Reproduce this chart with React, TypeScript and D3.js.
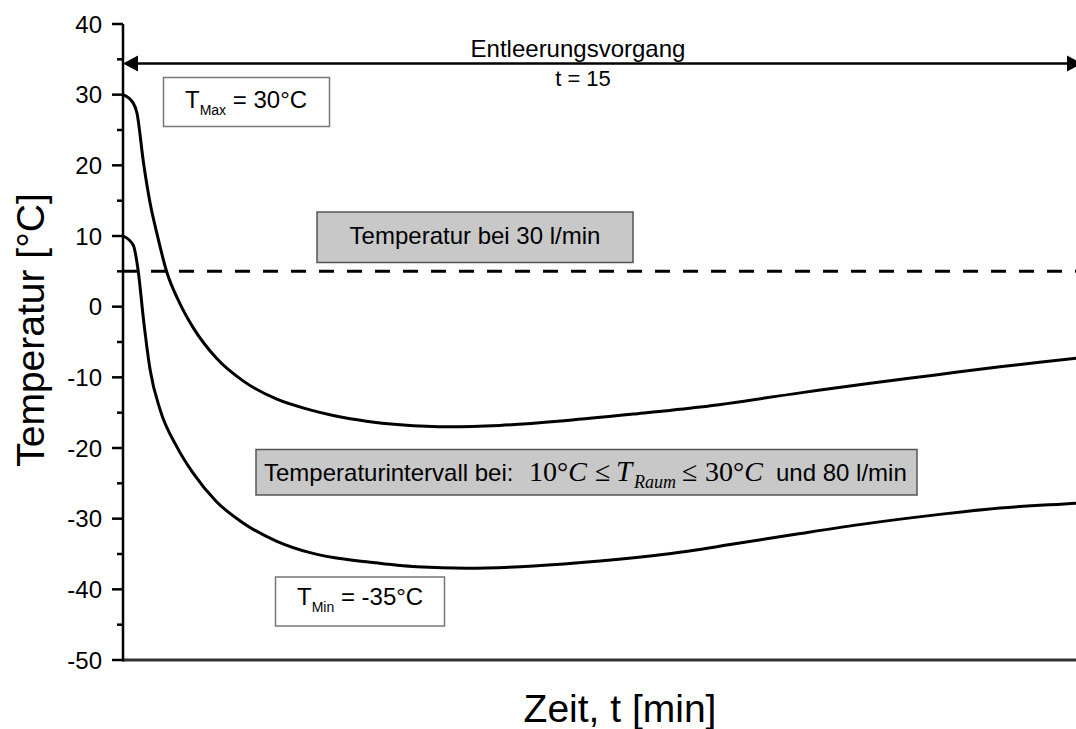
import React from "react";
import * as d3 from "d3";

const yTicks = [-50, -40, -30, -20, -10, 0, 10, 20, 30, 40];
const yMinorTicks = [-45, -35, -25, -15, -5, 5, 15, 25, 35];

const tMaxTime = [0, 0.155, 0.21, 0.31, 0.41, 0.51, 0.66, 0.86, 1.06, 1.41, 1.81, 2.32, 2.82, 3.17, 3.67, 4.18, 4.93, 5.68, 6.69, 7.69, 8.7, 10.21, 11.21, 12.22, 13.22, 14.37, 15];
const tMaxTemp = [30, 28.8, 27.4, 20.3, 14.6, 10.4, 4.9, 0.4, -3.0, -7.3, -10.5, -13.1, -14.6, -15.4, -16.2, -16.7, -17.0, -16.8, -16.1, -15.2, -14.2, -12.2, -10.9, -9.7, -8.5, -7.3, -6.6];

const tMinTime = [0, 0.155, 0.23, 0.31, 0.41, 0.56, 0.81, 1.06, 1.41, 1.81, 2.32, 2.82, 3.17, 3.67, 4.43, 5.18, 6.19, 7.19, 8.2, 9.2, 10.21, 11.21, 12.22, 13.22, 14.37, 15];
const tMinTemp = [10, 8.7, 5.0, -1.9, -9.0, -14.6, -19.8, -23.6, -27.6, -30.6, -33.2, -34.8, -35.5, -36.1, -36.8, -37.0, -36.7, -36.0, -35.0, -33.6, -32.1, -30.7, -29.5, -28.5, -27.8, -27.4];

const refTemp30 = 5;
const arrowLevel = 34.4;

const SANS = "'Liberation Sans', Arial, sans-serif";
const SERIF = "'Liberation Serif', 'Times New Roman', serif";

export default function App() {
  const W = 1076, H = 729;
  const x = d3.scaleLinear().domain([0, 15]).range([123, 1118]);
  const y = d3.scaleLinear().domain([-50, 40]).range([660, 24]);
  const line = d3
    .line<[number, number]>()
    .x((d) => x(d[0]))
    .y((d) => y(d[1]))
    .curve(d3.curveMonotoneX);
  const maxPts: [number, number][] = tMaxTime.map((t, i) => [t, tMaxTemp[i]]);
  const minPts: [number, number][] = tMinTime.map((t, i) => [t, tMinTemp[i]]);
  const x0 = x(0);
  const ay = y(arrowLevel);

  return (
    <svg width={W} height={H} style={{ position: "absolute", left: 0, top: 0, background: "#fff" }} fontFamily={SANS}>
      <rect x={0} y={0} width={W} height={H} fill="#fff" />
      {/* dashed reference */}
      <line x1={x0} x2={W + 10} y1={y(refTemp30)} y2={y(refTemp30)} stroke="#000" strokeWidth={3} strokeDasharray="15,13" />
      {/* curves */}
      <path d={line(maxPts) || ""} fill="none" stroke="#000" strokeWidth={3} />
      <path d={line(minPts) || ""} fill="none" stroke="#000" strokeWidth={3} />

      {/* axes */}
      <line x1={x0} x2={W + 10} y1={y(-50)} y2={y(-50)} stroke="#333" strokeWidth={3} />
      <line x1={x0} x2={x0} y1={y(40)} y2={y(-50) + 1.5} stroke="#000" strokeWidth={2.5} />
      {yTicks.map((v) => (
        <g key={v}>
          <line x1={x0 - 11} x2={x0} y1={y(v)} y2={y(v)} stroke="#000" strokeWidth={2.5} />
          <text x={102} y={y(v) + 8.5} textAnchor="end" fontSize={24} fill="#000">
            {v}
          </text>
        </g>
      ))}
      {yMinorTicks.map((v) => (
        <line key={v} x1={x0 - 6} x2={x0} y1={y(v)} y2={y(v)} stroke="#000" strokeWidth={2.5} />
      ))}

      {/* arrow */}
      <line x1={x0 + 10} x2={W + 10} y1={ay} y2={ay} stroke="#000" strokeWidth={2.5} />
      <path d={`M${x0},${ay} L${x0 + 15},${ay - 8} L${x0 + 15},${ay + 8} Z`} fill="#000" />
      <path d={`M${1082},${ay} L${1067},${ay - 8} L${1067},${ay + 8} Z`} fill="#000" />
      <text x={578} y={57} textAnchor="middle" fontSize={24}>Entleerungsvorgang</text>
      <text x={583} y={86} textAnchor="middle" fontSize={22}>t = 15</text>

      {/* T max box */}
      <rect x={163.5} y={77.5} width={166} height={49} fill="#fff" stroke="#777" strokeWidth={1.5} />
      <text x={185} y={108} fontSize={24}>
        T<tspan fontSize={14} dy={7}>Max</tspan>
        <tspan dy={-7}> = 30°C</tspan>
      </text>

      {/* T min box */}
      <rect x={275.5} y={577} width={169} height={49} fill="#fff" stroke="#777" strokeWidth={1.5} />
      <text x={297} y={605} fontSize={24}>
        T<tspan fontSize={14} dy={7}>Min</tspan>
        <tspan dy={-7}> = -35°C</tspan>
      </text>

      {/* grey box 30 l/min */}
      <rect x={317} y={212} width={316} height={50.5} fill="#c8c8c8" stroke="#555" strokeWidth={1.5} />
      <text x={475} y={244} textAnchor="middle" fontSize={24}>Temperatur bei 30 l/min</text>

      {/* grey box interval */}
      <rect x={256} y={449.5} width={661} height={45.5} fill="#c8c8c8" stroke="#555" strokeWidth={1.5} />
      <text y={481} fontSize={24}>
        <tspan x={264}>Temperaturintervall bei:</tspan>
        <tspan x={529} fontFamily={SERIF} fontSize={28}>10°<tspan fontStyle="italic">C</tspan></tspan>
        <tspan x={595} fontFamily={SERIF} fontSize={28}>≤</tspan>
        <tspan x={616} fontFamily={SERIF} fontSize={29} fontStyle="italic">T</tspan>
        <tspan x={634} dy={7} fontFamily={SERIF} fontSize={18} fontStyle="italic">Raum</tspan>
        <tspan x={682} dy={-7} fontFamily={SERIF} fontSize={28}>≤</tspan>
        <tspan x={705} fontFamily={SERIF} fontSize={28}>30°<tspan fontStyle="italic">C</tspan></tspan>
        <tspan x={776}>und 80 l/min</tspan>
      </text>

      {/* axis titles */}
      <text x={620} y={722} textAnchor="middle" fontSize={39}>Zeit, t [min]</text>
      <text transform={`translate(44,330) rotate(-90)`} textAnchor="middle" fontSize={39}>Temperatur [°C]</text>
    </svg>
  );
}
